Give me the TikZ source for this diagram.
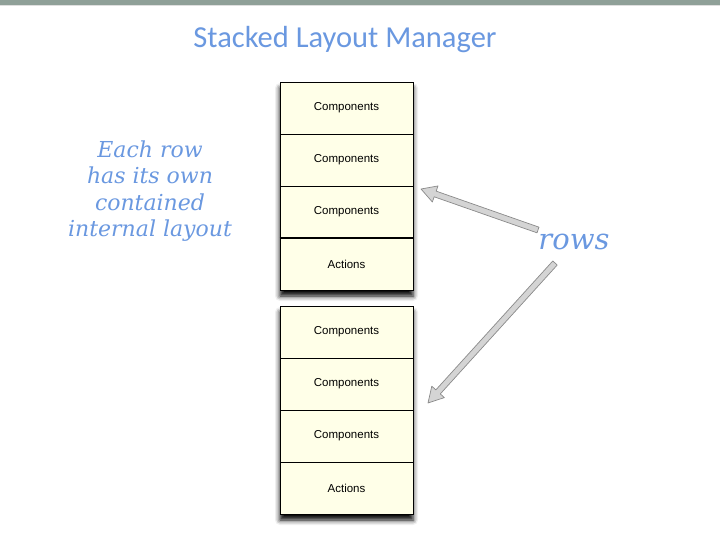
\documentclass[tikz,border=0pt]{standalone}
\usepackage{fontspec}
\setmainfont{DejaVu Serif}
\newfontfamily\titlefont{Carlito}
\newfontfamily\boxfont{Liberation Sans}
\usetikzlibrary{shadows.blur,calc}
\definecolor{barcol}{HTML}{8FA098}
\definecolor{bluetxt}{HTML}{6A98E0}
\definecolor{boxfill}{HTML}{FFFFE8}
\definecolor{arrfill}{HTML}{D4D4D4}
\definecolor{arrline}{HTML}{8A8A8A}
\tikzset{
  cell/.style={draw=black, line width=0.9pt, fill=boxfill, minimum width=133pt, minimum height=52pt, inner sep=0pt, font=\boxfont\fontsize{11.5}{13}\selectfont},
  note/.style={text=bluetxt, font=\itshape\fontsize{22}{26.5}\selectfont, align=center},
  hollow/.style={fill=arrfill, draw=arrline, line width=0.7pt, line join=round},
  stackshadow/.style={fill=white, blur shadow={shadow xshift=0pt, shadow yshift=-6pt, shadow blur radius=5pt, shadow opacity=100}},
}
\newcommand\blockarrow[2]{%
  \path let \p1=($(#2)-(#1)$) in \pgfextra{%
    \pgfmathsetmacro\arrang{atan2(\y1,\x1)}%
    \pgfmathsetmacro\arrlen{veclen(\x1,\y1)}%
    \xdef\arrA{\arrang}\xdef\arrL{\arrlen}};
  \pgfmathsetmacro\arrH{\arrL-15}%
  \draw[hollow, shift={(#1)}, rotate=\arrA]
    (0pt,-3pt) -- (\arrH pt,-3pt) -- (\arrH pt,-8.5pt) -- (\arrL pt,0pt)
    -- (\arrH pt,8.5pt) -- (\arrH pt,3pt) -- (0pt,3pt) -- cycle;
}
\begin{document}
\begin{tikzpicture}[x=1pt,y=-1pt]
\useasboundingbox (0,0) rectangle (720,540);
\fill[barcol] (0,0) rectangle (720,5);
\fill[gray!25] (0,5) rectangle (720,6.5);
\node[text=bluetxt, font=\titlefont\fontsize{30.5}{34}\selectfont] (title) at (345,40) {Stacked Layout Manager};

% stack 1
\path[stackshadow] (280,82) rectangle (413,290);
\node[cell] (a1) at (346.5,108) {Components};
\node[cell] (a2) at (346.5,160) {Components};
\node[cell] (a3) at (346.5,212) {Components};
\node[cell] (a4) at (346.5,264) {Actions};
\draw[line width=2pt] (a3.south west) -- (a3.south east);

% stack 2
\path[stackshadow] (280,306) rectangle (413,514);
\node[cell] (b1) at (346.5,332) {Components};
\node[cell] (b2) at (346.5,384) {Components};
\node[cell] (b3) at (346.5,436) {Components};
\node[cell] (b4) at (346.5,488) {Actions};

\node[note] (desc) at (150,191) {Each row\\has its own\\contained\\internal layout};
\node[note, font=\itshape\fontsize{29}{32}\selectfont] (rows) at (574,242) {rows};

\coordinate (t1) at (538,230);
\coordinate (h1) at (421,189);
\coordinate (t2) at (555,263);
\coordinate (h2) at (428,403);
\blockarrow{t1}{h1}
\blockarrow{t2}{h2}
\end{tikzpicture}
\end{document}
